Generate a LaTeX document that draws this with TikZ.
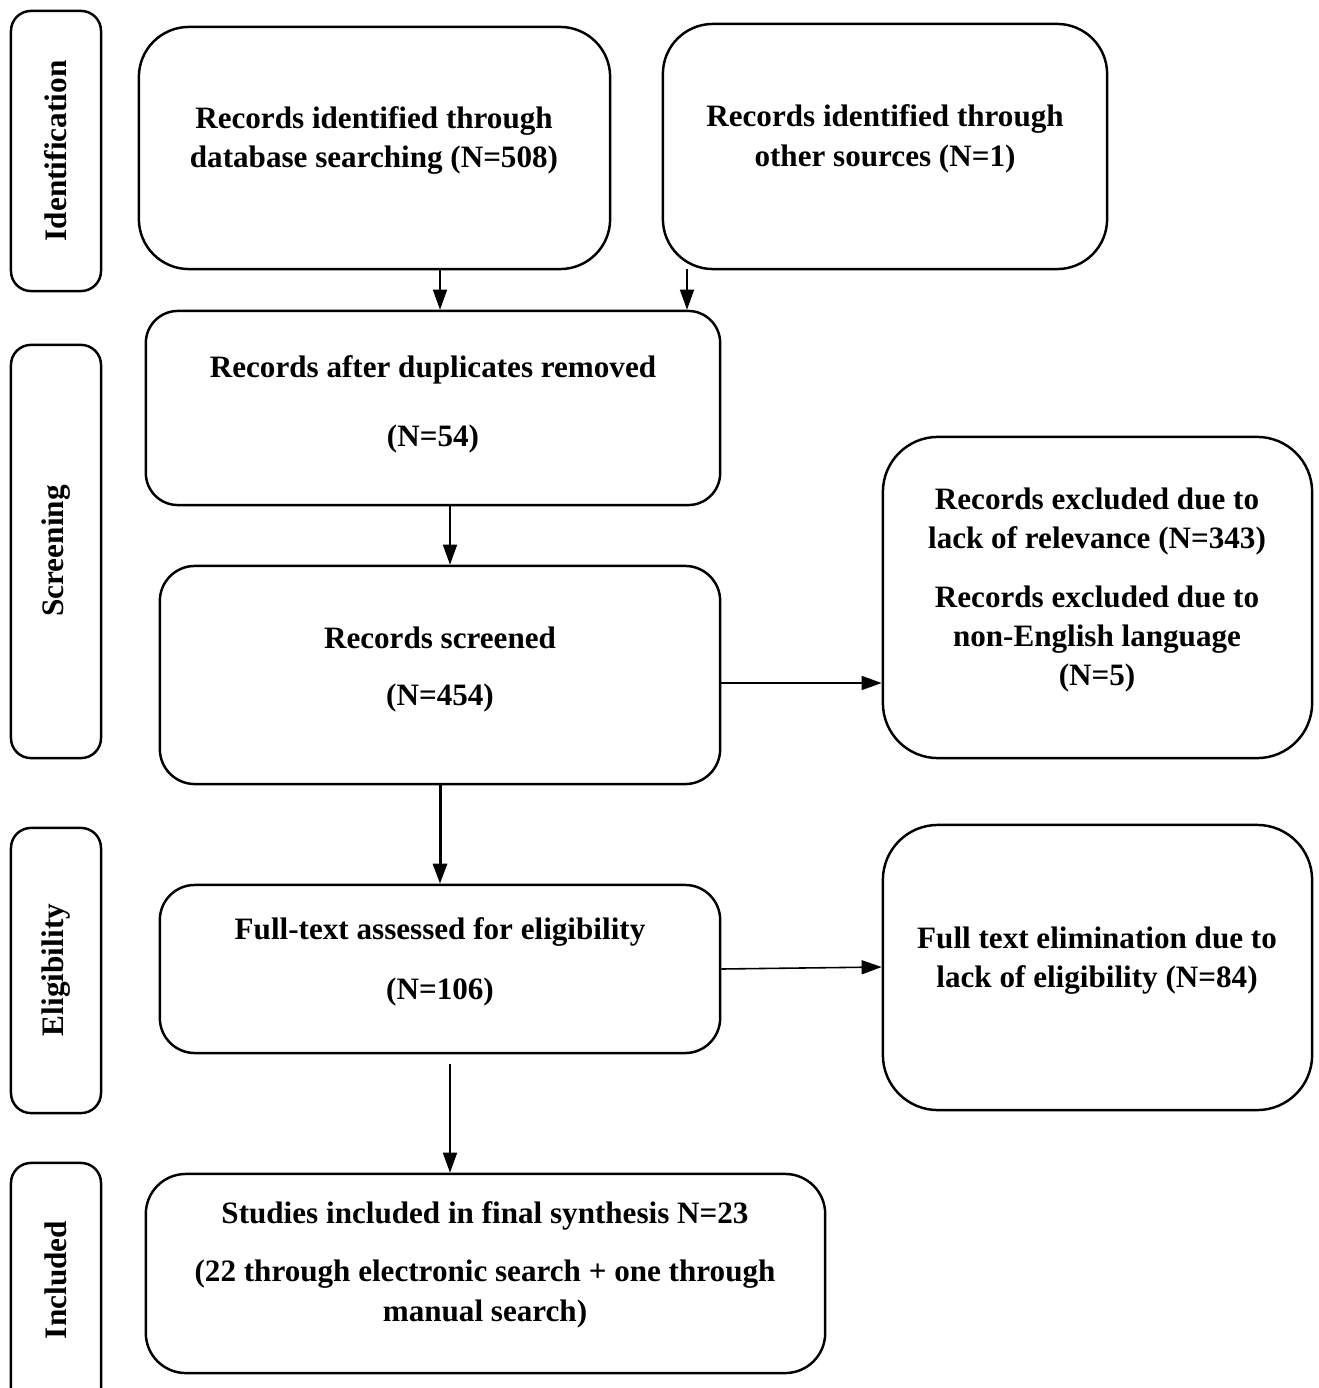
\documentclass[tikz,border=0pt]{standalone}
\usepackage{fontspec}
\setmainfont{Liberation Serif}
\usetikzlibrary{arrows.meta}
\begin{document}
\begin{tikzpicture}[x=0.01cm,y=-0.01cm,
  box/.style={draw=black, line width=0.7pt, inner sep=0pt, fill=none},
  txt/.style={font=\fontsize{8.85}{11.2}\selectfont\bfseries, align=center, inner sep=0pt, yshift=-0.03cm},
  side/.style={font=\fontsize{8.9}{10}\selectfont\bfseries, rotate=90, inner sep=0pt},
  arr/.style={line width=0.45pt, -{Triangle[length=0.2cm,width=0.14cm]}},
  arrthick/.style={line width=0.85pt, -{Triangle[length=0.2cm,width=0.14cm]}}
]
\clip (0,0) rectangle (1319,1388);
\fill[white] (0,0) rectangle (1319,1388);
% side labels
\node[box, rounded corners=0.2cm, minimum width=0.9cm, minimum height=2.8cm] (sid) at (56,151) {};
\node[side] (tid) at (56,151) {Identification};
\node[box, rounded corners=0.2cm, minimum width=0.9cm, minimum height=4.13cm] (sscr) at (56,551.5) {};
\node[side] (tscr) at (56,551) {Screening};
\node[box, rounded corners=0.2cm, minimum width=0.9cm, minimum height=2.85cm] (selg) at (56,970.5) {};
\node[side] (telg) at (56,970) {Eligibility};
\node[box, rounded corners=0.2cm, minimum width=0.9cm, minimum height=2.45cm] (sinc) at (56,1285.5) {};
\node[side] (tinc) at (56,1280) {Included};
% main boxes
\node[box, rounded corners=0.5cm, minimum width=4.71cm, minimum height=2.42cm] (a) at (374.5,148) {};
\node[txt] (ta) at (374,137.5) {Records identified through\\database searching (N=508)};
\node[box, rounded corners=0.5cm, minimum width=4.44cm, minimum height=2.45cm] (b) at (885,146.5) {};
\node[txt] (tb) at (885,136) {Records identified through\\other sources (N=1)};
\node[box, rounded corners=0.32cm, minimum width=5.74cm, minimum height=1.94cm] (c) at (433,408) {};
\node[txt] (tc1) at (433,367) {Records after duplicates removed};
\node[txt] (tc2) at (433,436) {(N=54)};
\node[box, rounded corners=0.35cm, minimum width=5.6cm, minimum height=2.18cm] (d) at (440,675) {};
\node[txt] (td1) at (440,635) {Records screened};
\node[txt] (td2) at (440,695) {(N=454)};
\node[box, rounded corners=0.55cm, minimum width=4.29cm, minimum height=3.21cm] (e) at (1097.5,597.5) {};
\node[txt] (te1) at (1097,518.5) {Records excluded due to\\lack of relevance (N=343)};
\node[txt] (te2) at (1097,636) {Records excluded due to\\non-English language\\(N=5)};
\node[box, rounded corners=0.35cm, minimum width=5.6cm, minimum height=1.68cm] (f) at (440,969) {};
\node[txt] (tf1) at (440,929) {Full-text assessed for eligibility};
\node[txt] (tf2) at (440,989) {(N=106)};
\node[box, rounded corners=0.55cm, minimum width=4.29cm, minimum height=2.85cm] (g) at (1097.5,967.5) {};
\node[txt] (tg) at (1097,957.5) {Full text elimination due to\\lack of eligibility (N=84)};
\node[box, rounded corners=0.4cm, minimum width=6.79cm, minimum height=1.99cm] (h) at (485.5,1273.5) {};
\node[txt] (th1) at (485,1213) {Studies included in final synthesis N=23};
\node[txt] (th2) at (485,1291) {(22 through electronic search + one through\\manual search)};
% connectors
\coordinate (xac) at (440,0);
\coordinate (xbc) at (687,0);
\coordinate (xcd) at (450,0);
\coordinate (xdf) at (440,0);
\coordinate (xfh) at (450,0);
\coordinate (yde) at (0,683);
\coordinate (yfg1) at (0,969);
\coordinate (yfg2) at (0,967);
\draw[arr] (a.south -| xac) -- (c.north -| xac);
\draw[arr] ([yshift=0.01cm]b.south -| xbc) -- (c.north -| xbc);
\draw[arr] (c.south -| xcd) -- (d.north -| xcd);
\draw[arrthick] (d.south -| xdf) -- (f.north -| xdf);
\draw[arr] (d.east |- yde) -- (e.west |- yde);
\draw[arr] (f.east |- yfg1) -- (g.west |- yfg2);
\draw[arr] ([yshift=-0.1cm]f.south -| xfh) -- (h.north -| xfh);
\end{tikzpicture}
\end{document}
